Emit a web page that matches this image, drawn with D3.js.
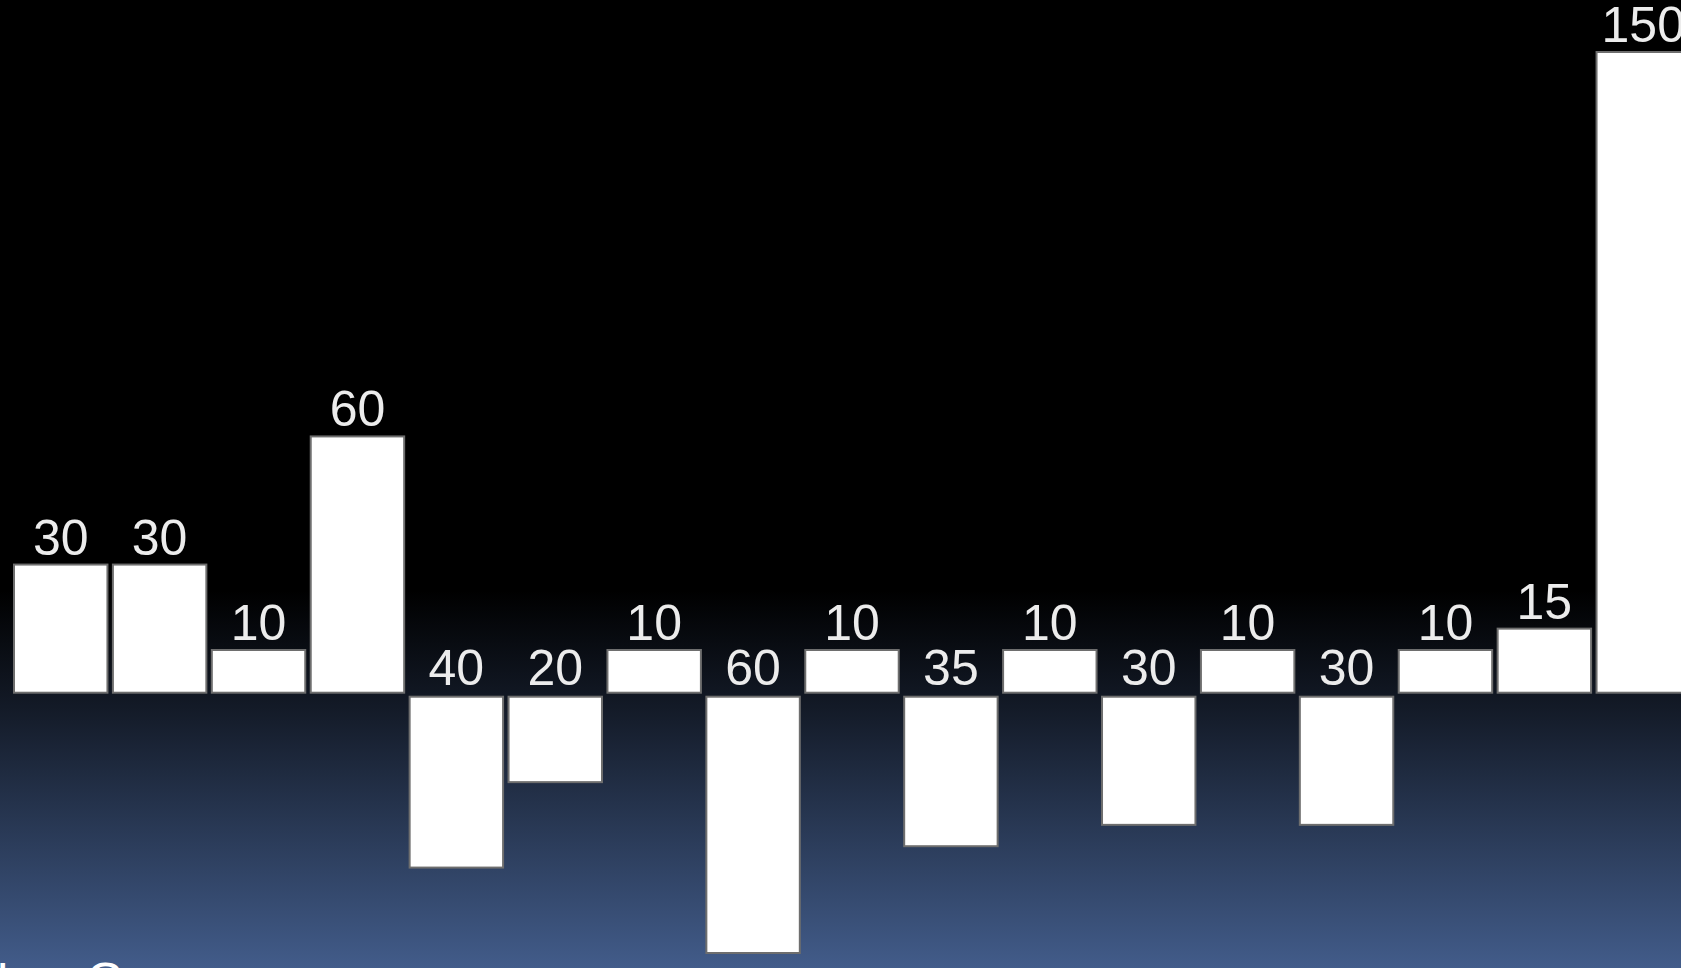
<!DOCTYPE html>
<html>
<head>
<meta charset="utf-8">
<script src="https://d3js.org/d3.v7.min.js"></script>
<style>
  html, body { margin:0; padding:0; background:#000; overflow:hidden; }
  svg { display:block; }
</style>
</head>
<body>
<svg></svg>
<script>

// values, left to right
var categories = ['A','B','C','D','E','F','G','H','I','J','K','L','M','N','O','P','Q'];
var values = [30, 30, 10, 60, -40, -20, 10, -60, 10, -35, 10, -30, 10, -30, 10, 15, 150];
var footerText = 'Inc. Gross';

var svgwidth = 1681;
var svgheight = 968;

var svg = d3.select('svg').attr('width',svgwidth).attr('height',svgheight);

// background: black, fading into slate blue at the bottom
var defs = svg.append('defs');
var grad = defs.append('linearGradient')
               .attr('id','bg')
               .attr('gradientUnits','userSpaceOnUse')
               .attr('x1',0).attr('y1',0)
               .attr('x2',0).attr('y2',svgheight);
grad.append('stop').attr('offset','0').attr('stop-color','#000000');
grad.append('stop').attr('offset','0.61').attr('stop-color','#000000');
grad.append('stop').attr('offset','0.73').attr('stop-color','#131a27');
grad.append('stop').attr('offset','1').attr('stop-color','#425c8a');

svg.append('rect')
   .attr('width',svgwidth)
   .attr('height',svgheight)
   .attr('fill','url(#bg)');

var xScale = d3.scaleBand()
               .domain(categories)
               .range([13, 1691])
               .paddingInner(0.035)
               .paddingOuter(0);

var yScale = d3.scaleLinear()
               .domain([-60,150])
               .range([949,52]);

// negative bars hang a few pixels under the positive ones
var gap = 4;

var data = categories.map(function(c,i){
  return {cat:c, value:values[i]};
});

var plot = svg.append('g').classed('plot',true);

plot.selectAll('rect')
    .data(data)
    .enter()
    .append('rect')
    .attr('x', function(d){return xScale(d.cat)+1;})
    .attr('width', xScale.bandwidth()-2)
    .attr('y', function(d){
      return d.value>=0 ? yScale(d.value) : yScale(0)+gap;
    })
    .attr('height', function(d){return Math.abs(yScale(d.value)-yScale(0));})
    .attr('fill','#ffffff')
    .attr('stroke','#6e6e6e')
    .attr('stroke-width',2);

plot.selectAll('text.label')
    .data(data)
    .enter()
    .append('text')
    .classed('label',true)
    .attr('x', function(d){return xScale(d.cat)+xScale.bandwidth()/2;})
    .attr('y', function(d){
      return d.value>=0 ? yScale(d.value)-10 : yScale(0)-8;
    })
    .attr('text-anchor','middle')
    .attr('font-family','"Liberation Sans", Arial, sans-serif')
    .attr('font-size',50)
    .attr('fill','#ececec')
    .text(function(d){return Math.abs(d.value);});

// title text at the bottom, mostly cut off by the frame
svg.append('text')
   .attr('x',-4)
   .attr('y',996)
   .attr('font-family','"Liberation Sans", Arial, sans-serif')
   .attr('font-size',48)
   .attr('fill','#ffffff')
   .text(footerText);

</script>
</body>
</html>
